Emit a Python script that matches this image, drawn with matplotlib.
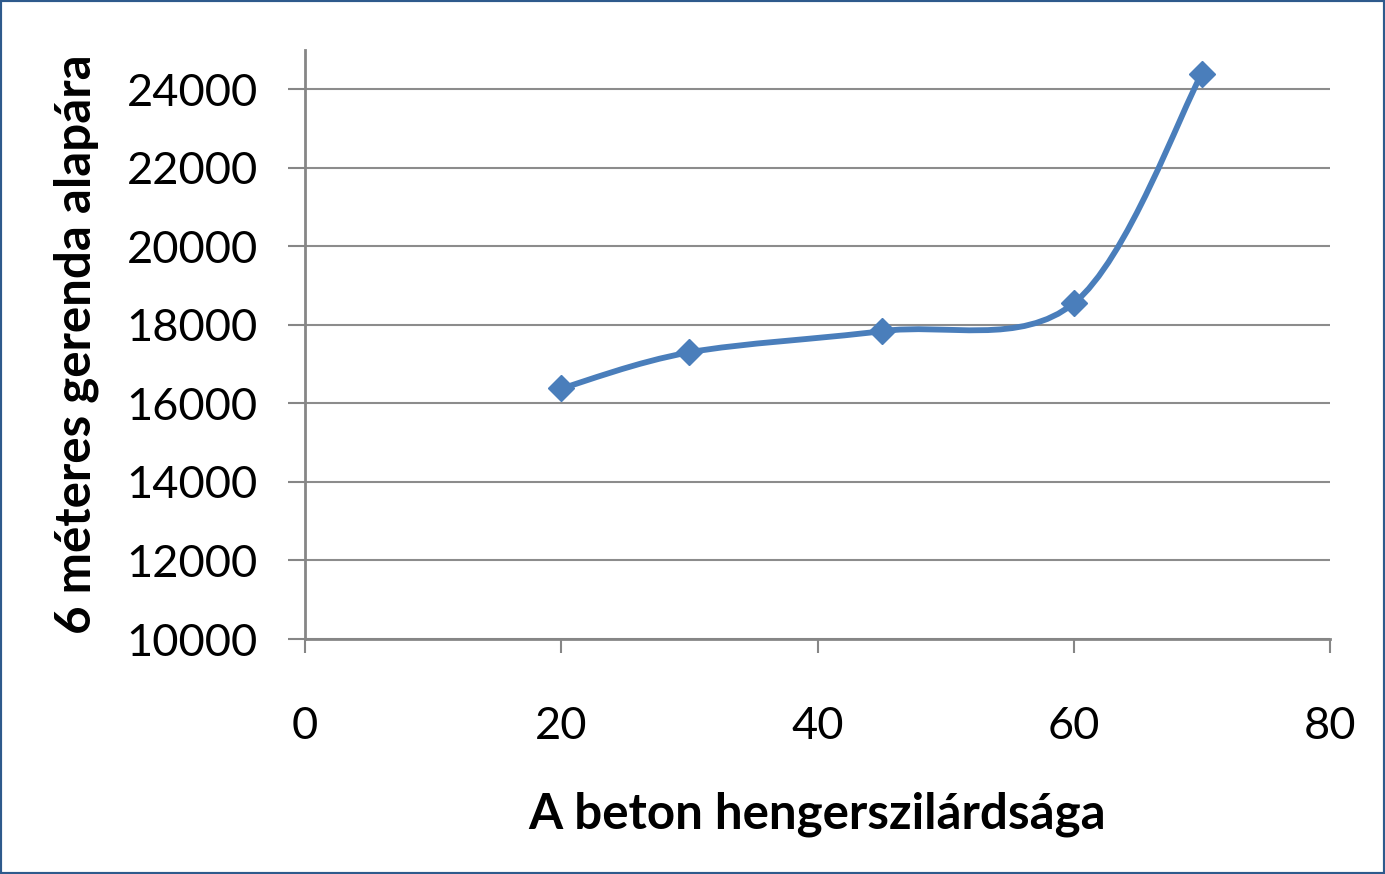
import numpy as np
import matplotlib
matplotlib.use("Agg")
import matplotlib.pyplot as plt
from matplotlib.path import Path
from matplotlib.patches import PathPatch, Rectangle

# Data
x_vals = [20, 30, 45, 60, 70]
y_vals = [16380, 17300, 17840, 18550, 24400]
x_ticks = [0, 20, 40, 60, 80]
y_ticks = [10000, 12000, 14000, 16000, 18000, 20000, 22000, 24000]
x_label = "A beton hengerszilárdsága"
y_label = "6 méteres gerenda alapára"

plt.rcParams['font.family'] = ['Lato', 'DejaVu Sans']

fig = plt.figure(figsize=(13.85, 8.74), dpi=100)
ax = fig.add_axes([305/1385, 1-639/874, (1330-305)/1385, (639-50)/874])

line_color = '#4A7EBB'
grid_color = '#8C8C8C'

# Smooth curve (Excel-like Bezier smoothing) built from data points
pts = np.column_stack([x_vals, y_vals]).astype(float)
verts = [tuple(pts[0])]
codes = [Path.MOVETO]
n = len(pts)
for i in range(n - 1):
    p0 = pts[i - 1] if i > 0 else pts[i]
    p1 = pts[i]
    p2 = pts[i + 1]
    p3 = pts[i + 2] if i + 2 < n else pts[i + 1]
    c1 = p1 + (p2 - p0) / 6.0
    c2 = p2 - (p3 - p1) / 6.0
    verts += [tuple(c1), tuple(c2), tuple(p2)]
    codes += [Path.CURVE4, Path.CURVE4, Path.CURVE4]
ax.add_patch(PathPatch(Path(verts, codes), facecolor='none', edgecolor=line_color,
                       linewidth=4.2, capstyle='round', joinstyle='round', zorder=3))
ax.plot(x_vals, y_vals, linestyle='none', marker='D', markersize=13,
        color=line_color, zorder=4)

ax.set_xlim(0, 80)
ax.set_ylim(10000, 25000)
ax.set_xticks(x_ticks)
ax.set_yticks(y_ticks)
ax.set_xticklabels([str(t) for t in x_ticks])
ax.set_yticklabels([str(t) for t in y_ticks])

ax.yaxis.grid(True, color=grid_color, linewidth=1.5)
ax.set_axisbelow(True)
for s in ['top', 'right']:
    ax.spines[s].set_visible(False)
for s in ['left', 'bottom']:
    ax.spines[s].set_color('#868686')
    ax.spines[s].set_linewidth(2)

ax.tick_params(axis='y', direction='out', length=12, width=1.5, color='#868686',
               labelsize=32.5, pad=22, labelcolor='black')
ax.tick_params(axis='x', direction='out', length=10, width=1.5, color='#868686',
               labelsize=32.5, pad=38, labelcolor='black')

ax.set_xlabel(x_label, fontsize=35.5, fontweight='bold', labelpad=32)
ax.set_ylabel(y_label, fontsize=35.5, fontweight='bold', labelpad=20)

# Figure border
fig.patches.append(Rectangle((0, 0), 1, 1, transform=fig.transFigure, fill=False,
                             edgecolor='#2E5A8C', linewidth=3, zorder=10))

fig.savefig('out.png', dpi=100)
